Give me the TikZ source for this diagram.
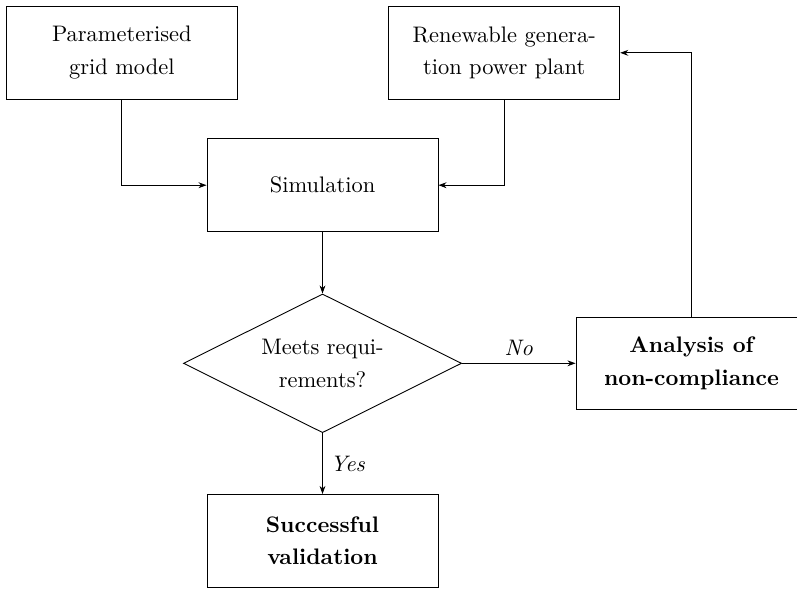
\documentclass[tikz,border=0pt]{standalone}
\usetikzlibrary{shapes.geometric,arrows.meta}
\begin{document}
\begin{tikzpicture}[x=0.4455pt,y=-0.4455pt,
  txt/.style={font=\fontsize{10pt}{14.6pt}\selectfont},
  boldtxt/.style={font=\fontsize{10pt}{14.6pt}\selectfont\bfseries},
  box/.style={draw,rectangle,minimum width=102.9pt,minimum height=41.3pt,inner sep=0pt,align=center,txt},
  dec/.style={draw,diamond,aspect=2,minimum width=123.9pt,minimum height=61.8pt,inner sep=0pt,align=center,txt},
  arr/.style={-{Stealth[length=3.6pt,width=2.6pt]},line width=0.4pt}]
\useasboundingbox (0,0) rectangle (797,589);
\clip (0,0) rectangle (797,589);
\node[box] (param) at (121.8,52.8) {Parameterised\\grid model};
\node[box] (ren) at (504.2,52.8) {Renewable genera-\\tion power plant};
\node[box] (sim) at (322.5,185.2) {Simulation};
\node[dec] (meet) at (322.5,363.3) {Meets requi-\\rements?};
\node[box,boldtxt] (ana) at (691.5,363.3) {Analysis of\\non-compliance};
\node[box,boldtxt] (succ) at (322.5,540.8) {Successful\\validation};
\draw[arr] (param.south) |- (sim.west);
\draw[arr] (ren.south) |- (sim.east);
\draw[arr] (sim) -- (meet);
\draw[arr] (meet) -- node[above,txt]{\itshape No} (ana);
\draw[arr] (meet) -- node[right,txt]{\itshape Yes} (succ);
\draw[arr] (ana.north) |- (ren.east);
\end{tikzpicture}
\end{document}
